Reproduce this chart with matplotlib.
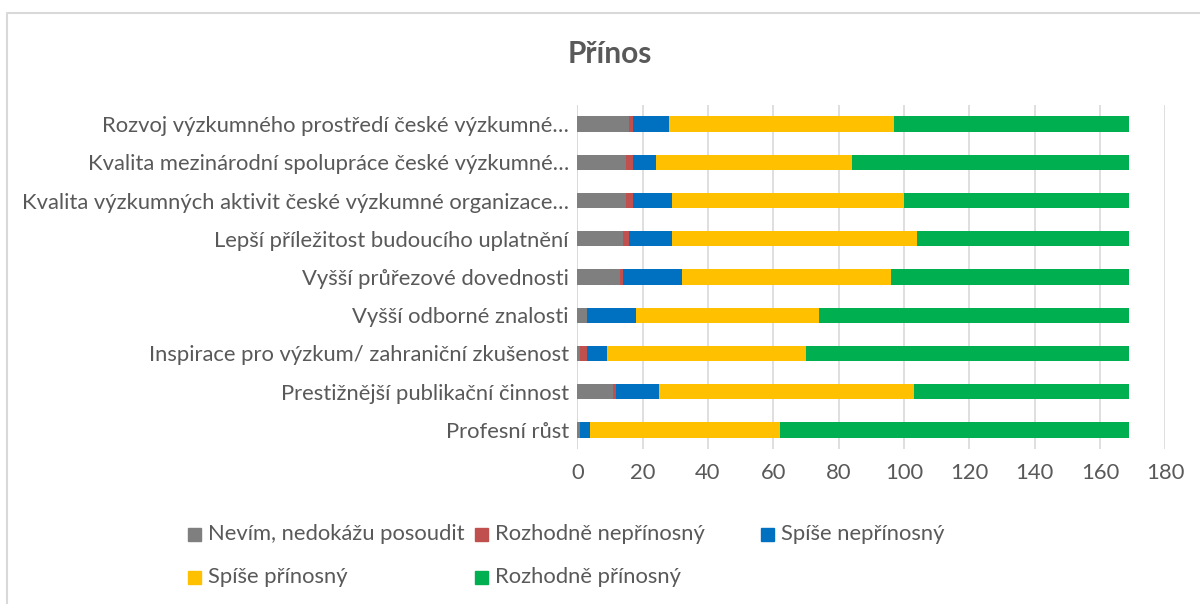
import numpy as np
import matplotlib
matplotlib.use("Agg")
from matplotlib import pyplot as plt
from matplotlib.patches import Rectangle
from matplotlib.lines import Line2D

plt.rcParams['font.family'] = ['Lato', 'DejaVu Sans']

# categories from bottom to top
categories = [
    "Profesní růst",
    "Prestižnější publikační činnost",
    "Inspirace pro výzkum/ zahraniční zkušenost",
    "Vyšší odborné znalosti",
    "Vyšší průřezové dovednosti",
    "Lepší příležitost budoucího uplatnění",
    "Kvalita výzkumných aktivit české výzkumné organizace…",
    "Kvalita mezinárodní spolupráce české výzkumné…",
    "Rozvoj výzkumného prostředí české výzkumné…",
]

series_names = ["Nevím, nedokážu posoudit", "Rozhodně nepřínosný", "Spíše nepřínosný",
                "Spíše přínosný", "Rozhodně přínosný"]
nevim = [1, 11, 1, 3, 13, 14, 15, 15, 16]
rozhodne_ne = [0, 1, 2, 0, 1, 2, 2, 2, 1]
spise_ne = [3, 13, 6, 15, 18, 13, 12, 7, 11]
spise_pri = [58, 78, 61, 56, 64, 75, 71, 60, 69]
rozhodne_pri = [107, 66, 99, 95, 73, 65, 69, 85, 72]

colors = ["#7F7F7F", "#C0504D", "#0070C0", "#FFC000", "#00B050"]
text_col = "#595959"

fig = plt.figure(figsize=(12, 6.04), dpi=100)
ax = fig.add_axes([0.481, 0.2566, 0.490, 0.5696])

y = np.arange(len(categories))
left = np.zeros(len(categories))
for vals, col in zip([nevim, rozhodne_ne, spise_ne, spise_pri, rozhodne_pri], colors):
    ax.barh(y, vals, left=left, height=0.4, color=col, zorder=3)
    left += np.array(vals)

ax.set_xlim(0, 180)
ax.set_ylim(-0.5, len(categories) - 0.5)
ax.set_xticks(range(0, 181, 20))
ax.set_yticks(y)
ax.set_yticklabels(categories)
ax.grid(axis='x', color="#D9D9D9", linewidth=1.2, zorder=0)
for s in ax.spines.values():
    s.set_visible(False)
ax.tick_params(axis='both', length=0, colors=text_col, labelsize=15.8)
ax.tick_params(axis='x', pad=10)
ax.tick_params(axis='y', pad=6)
ax.axvline(0, color="#D9D9D9", linewidth=1.2, zorder=1)

fig.text(0.508, 0.911, "Přínos", ha='center', va='center', fontsize=21.5,
         fontweight='bold', color=text_col)

# legend, laid out like the original (two rows)
leg_pos = [(188, 534), (475, 534), (761, 534), (188, 577), (475, 577)]
W, H = 1200, 604
for (px, py), name, col in zip(leg_pos, series_names, colors):
    fig.patches.append(Rectangle((px / W, 1 - (py + 6.5) / H), 13 / W, 13 / H,
                                 transform=fig.transFigure, color=col))
    fig.text((px + 20) / W, 1 - py / H, name, ha='left', va='center',
             fontsize=15.8, color=text_col)

# chart border (left and top edges)
fig.lines.append(Line2D([7 / W, 7 / W, 1], [0, 1 - 13 / H, 1 - 13 / H],
                        transform=fig.transFigure, color="#D9D9D9", linewidth=1.5))

fig.savefig("out.png", dpi=100)
